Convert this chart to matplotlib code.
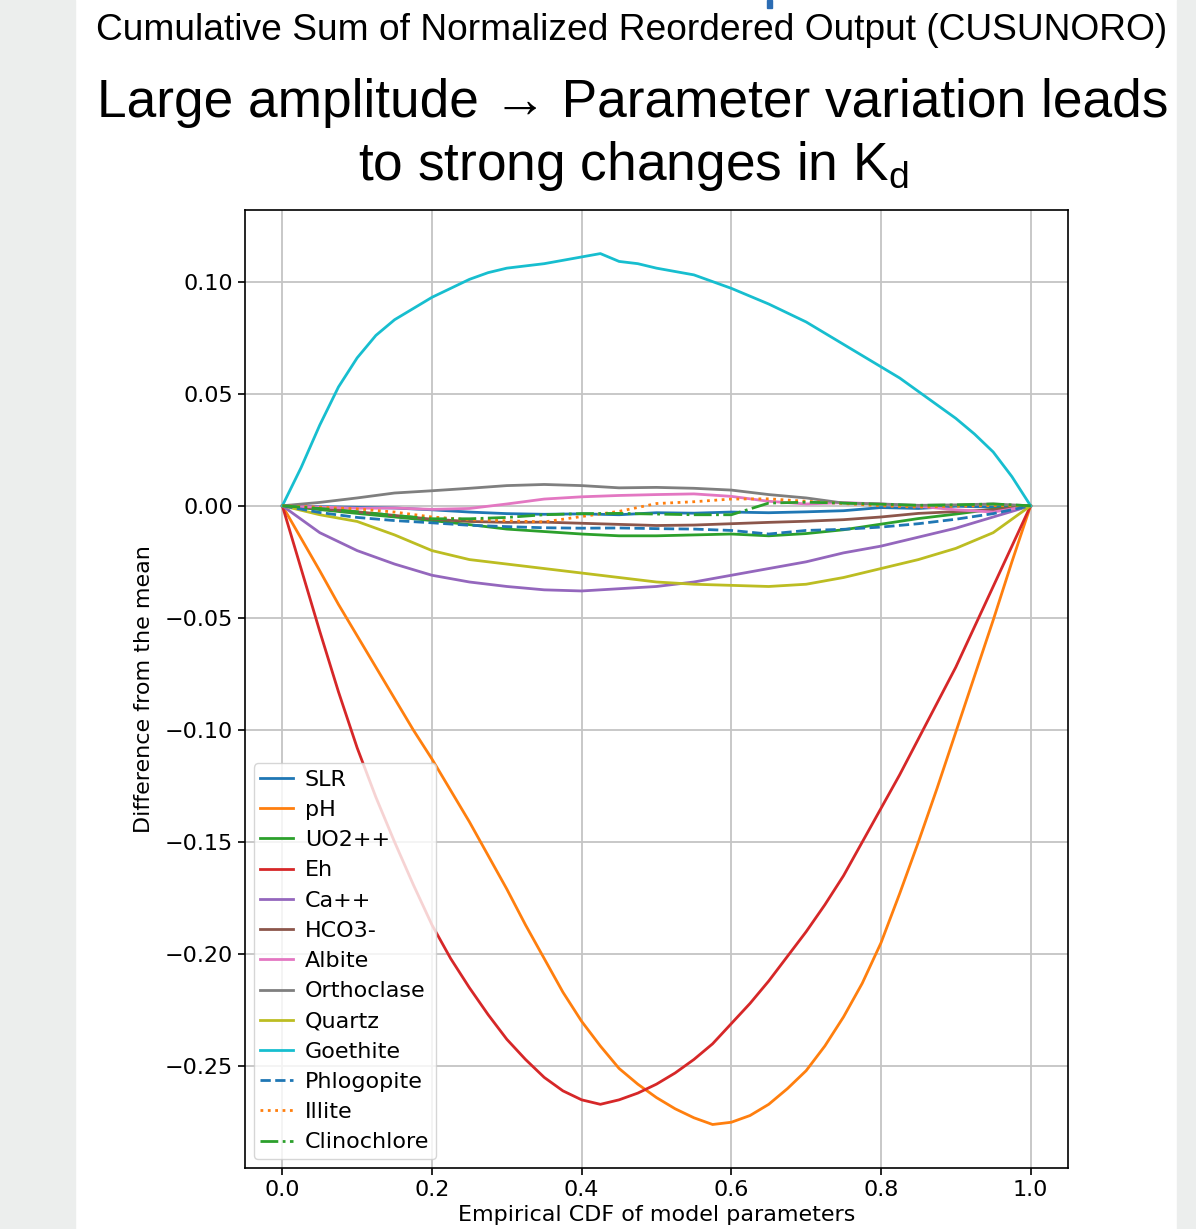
import matplotlib
matplotlib.use("Agg")
import matplotlib.pyplot as plt
from matplotlib.patches import Rectangle

# x positions (empirical CDF) for the small curves and the large curves
x_coarse = [0.0, 0.05, 0.1, 0.15, 0.2, 0.25, 0.3, 0.35, 0.4, 0.45, 0.5,
            0.55, 0.6, 0.65, 0.7, 0.75, 0.8, 0.85, 0.9, 0.95, 1.0]
x_fine = [0.0, 0.025, 0.05, 0.075, 0.1, 0.125, 0.15, 0.175, 0.2, 0.225, 0.25,
          0.275, 0.3, 0.325, 0.35, 0.375, 0.4, 0.425, 0.45, 0.475, 0.5,
          0.525, 0.55, 0.575, 0.6, 0.625, 0.65, 0.675, 0.7, 0.725, 0.75,
          0.775, 0.8, 0.825, 0.85, 0.875, 0.9, 0.925, 0.95, 0.975, 1.0]

slr = [0, -0.0004, -0.0007, -0.0010, -0.0018, -0.0028, -0.0035, -0.0038, -0.0036, -0.0040, -0.0031,
       -0.0033, -0.0028, -0.0031, -0.0027, -0.0022, -0.0008, -0.0012, -0.0002, -0.0006, 0]
ph = [0, -0.0145, -0.029, -0.044, -0.058, -0.072, -0.086, -0.100, -0.113, -0.127, -0.141,
      -0.156, -0.171, -0.187, -0.202, -0.217, -0.230, -0.241, -0.251, -0.258, -0.264,
      -0.269, -0.273, -0.276, -0.275, -0.272, -0.267, -0.260, -0.252, -0.241, -0.228,
      -0.213, -0.195, -0.173, -0.150, -0.126, -0.101, -0.076, -0.051, -0.025, 0]
uo2 = [0, -0.0017, -0.0034, -0.0050, -0.0066, -0.0084, -0.0104, -0.0115, -0.0126, -0.0134, -0.0134,
       -0.0130, -0.0126, -0.0134, -0.0124, -0.0107, -0.0082, -0.0057, -0.0037, -0.0015, 0]
eh = [0, -0.028, -0.056, -0.083, -0.108, -0.130, -0.150, -0.169, -0.187, -0.202, -0.215,
      -0.227, -0.238, -0.247, -0.255, -0.261, -0.265, -0.267, -0.265, -0.262, -0.258,
      -0.253, -0.247, -0.240, -0.231, -0.222, -0.212, -0.201, -0.190, -0.178, -0.165,
      -0.150, -0.135, -0.120, -0.104, -0.088, -0.072, -0.054, -0.036, -0.018, 0]
ca = [0, -0.012, -0.020, -0.026, -0.031, -0.034, -0.036, -0.0375, -0.038, -0.037, -0.036,
      -0.034, -0.031, -0.028, -0.025, -0.021, -0.018, -0.014, -0.010, -0.005, 0]
hco3 = [0, -0.0012, -0.0027, -0.0043, -0.0060, -0.0070, -0.0074, -0.0073, -0.0078, -0.0083, -0.0088,
        -0.0086, -0.0080, -0.0074, -0.0069, -0.0062, -0.0050, -0.0034, -0.0026, -0.0018, 0]
albite = [0, -0.0006, -0.0011, -0.0010, -0.0016, -0.0012, 0.0008, 0.0030, 0.0040, 0.0046, 0.0050,
          0.0053, 0.0042, 0.0020, 0.0008, 0.0014, 0.0008, -0.0002, -0.0018, -0.0028, 0]
orthoclase = [0, 0.0015, 0.0035, 0.0057, 0.0067, 0.0078, 0.0090, 0.0095, 0.0090, 0.0080, 0.0082,
              0.0078, 0.0070, 0.0050, 0.0035, 0.0012, 0.0008, 0.0002, 0.0004, 0.0008, 0]
quartz = [0, -0.004, -0.007, -0.013, -0.020, -0.024, -0.026, -0.028, -0.030, -0.032, -0.034,
          -0.035, -0.0355, -0.036, -0.035, -0.032, -0.028, -0.024, -0.019, -0.012, 0]
goethite = [0, 0.017, 0.036, 0.053, 0.066, 0.076, 0.083, 0.088, 0.093, 0.097, 0.101,
            0.104, 0.106, 0.107, 0.108, 0.1095, 0.111, 0.1125, 0.109, 0.108, 0.106,
            0.1045, 0.103, 0.100, 0.097, 0.0935, 0.090, 0.086, 0.082, 0.077, 0.072,
            0.067, 0.062, 0.057, 0.051, 0.045, 0.039, 0.032, 0.024, 0.013, 0]
phlogopite = [0, -0.0030, -0.0052, -0.0066, -0.0076, -0.0087, -0.0093, -0.0098, -0.0100, -0.0099, -0.0102,
              -0.0104, -0.0110, -0.0126, -0.0110, -0.0105, -0.0095, -0.0080, -0.0060, -0.0035, 0]
illite = [0, -0.0006, -0.0014, -0.0028, -0.0050, -0.0062, -0.0067, -0.0072, -0.0048, -0.0025, 0.0010,
          0.0018, 0.0030, 0.0031, 0.0020, 0.0010, 0.0000, -0.0006, -0.0002, 0.0001, 0]
clinochlore = [0, -0.0012, -0.0027, -0.0043, -0.0058, -0.0058, -0.0052, -0.0040, -0.0035, -0.0034, -0.0037,
               -0.0040, -0.0040, 0.0012, 0.0016, 0.0012, 0.0007, 0.0002, 0.0004, 0.0008, 0]

series = [
    ("SLR", x_coarse, slr, "tab:blue", "-"),
    ("pH", x_fine, ph, "tab:orange", "-"),
    ("UO2++", x_coarse, uo2, "tab:green", "-"),
    ("Eh", x_fine, eh, "tab:red", "-"),
    ("Ca++", x_coarse, ca, "tab:purple", "-"),
    ("HCO3-", x_coarse, hco3, "tab:brown", "-"),
    ("Albite", x_coarse, albite, "tab:pink", "-"),
    ("Orthoclase", x_coarse, orthoclase, "tab:gray", "-"),
    ("Quartz", x_coarse, quartz, "tab:olive", "-"),
    ("Goethite", x_fine, goethite, "tab:cyan", "-"),
    ("Phlogopite", x_coarse, phlogopite, "tab:blue", "--"),
    ("Illite", x_coarse, illite, "tab:orange", ":"),
    ("Clinochlore", x_coarse, clinochlore, "tab:green", "-."),
]

fig = plt.figure(figsize=(11.96, 12.29), dpi=100)

# grey slide margins on both sides
fig.patches.append(Rectangle((0, 0), 75 / 1196, 1, transform=fig.transFigure,
                             color="#eceeed", zorder=0))
fig.patches.append(Rectangle((1177 / 1196, 0), 19 / 1196, 1, transform=fig.transFigure,
                             color="#eceeed", zorder=0))
# fragment of cut-off text above the title
fig.patches.append(Rectangle((767 / 1196, 1 - 8 / 1229), 5 / 1196, 8 / 1229,
                             transform=fig.transFigure, color="#2b6cb3", zorder=0))

title_font = ["Liberation Sans", "DejaVu Sans"]
fig.text(0.5284, 1 - 40 / 1229, "Cumulative Sum of Normalized Reordered Output (CUSUNORO)",
         ha="center", va="baseline", fontsize=26.7, family=title_font)
fig.text(0.5288, 1 - 117 / 1229, "Large amplitude \u2192 Parameter variation leads",
         ha="center", va="baseline", fontsize=38.3, family=title_font)
fig.text(0.5293, 1 - 180 / 1229, r"to strong changes in $\mathregular{K_d}$",
         ha="center", va="baseline", fontsize=38.3, family=title_font)

ax = fig.add_axes([0.2048, 0.0496, 0.6882, 0.7795])
for name, xs, ys, color, ls in series:
    ax.plot(xs, ys, color=color, linestyle=ls, linewidth=2.0, label=name)

ax.grid(True, color="#c4c4c4", linewidth=1.3)
ax.tick_params(labelsize=16, length=5, width=1.2)
for sp in ax.spines.values():
    sp.set_linewidth(1.2)
ax.set_xlabel("Empirical CDF of model parameters", fontsize=16)
ax.set_ylabel("Difference from the mean", fontsize=16, labelpad=8)
ax.legend(loc="lower left", fontsize=16, labelspacing=0.46, handlelength=1.45,
          handletextpad=0.55, borderpad=0.3, borderaxespad=0.4)

fig.savefig("out.png", dpi=100)
